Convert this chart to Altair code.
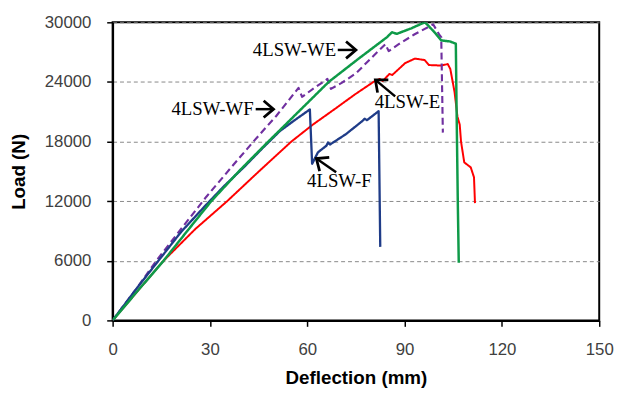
import altair as alt
import pandas as pd

# ---- series data (Deflection mm, Load N) ----
we_x = [0, 7.8, 15.7, 23, 30.4, 39.2, 48, 57.3, 66.6, 75.9, 84.6, 86.1, 87.6, 92.1, 96.2, 97.1, 99.5, 101.3, 103.9, 105.8, 106, 106.4, 106.7]
we_y = [0, 3000, 6000, 9000, 12000, 15100, 18000, 21000, 24000, 26360, 28510, 29000, 28840, 29400, 30000, 29740, 28900, 28180, 28080, 27850, 22000, 12000, 5800]

wf_x = [0, 6.9, 13.7, 21.1, 28.9, 36.3, 43.4, 50.5, 57.3, 58.4, 62.2, 66.2, 67.3, 70.6, 75, 79.4, 84.1, 85.1, 88.2, 93.1, 97.2, 98.8, 100.8, 101.3, 101.8]
wf_y = [0, 3000, 6100, 9200, 12450, 15300, 18000, 20600, 23400, 22500, 23400, 24300, 23300, 23900, 24860, 26300, 27800, 27100, 27800, 28800, 29500, 29800, 28700, 28500, 18900]

e_x = [0, 7.8, 15.7, 25.5, 35.3, 45.1, 55.1, 61.7, 68.6, 74.5, 80.4, 82.3, 83.3, 85.3, 86.2, 90.2, 93.2, 96.2, 97.5, 101.3, 103.3, 104.1, 105.4, 106.3, 107, 107.4, 108.4, 110.4, 111.4, 111.7]
e_y = [0, 3000, 6000, 9200, 12000, 15000, 18000, 19700, 21300, 22700, 24000, 24300, 24100, 24800, 24700, 25900, 26350, 26200, 25700, 25650, 25800, 25300, 23000, 20500, 19700, 18000, 15900, 15400, 14400, 11800]

f_x = [0, 6.9, 14.1, 21.1, 28.3, 34.3, 40.5, 46.1, 51.6, 55.9, 60.8, 61.5, 63.3, 65.9, 66.4, 67, 71.9, 77, 77.7, 78.4, 82, 82.5]
f_y = [0, 3000, 6000, 8900, 11450, 13500, 15430, 17300, 19070, 20100, 21230, 15760, 16920, 17580, 17900, 17700, 18740, 20070, 20300, 20150, 21060, 7400]

series_names = ["4LSW-E", "4LSW-WF", "4LSW-F", "4LSW-WE"]
series_cols = ["#FF0000", "#7030A0", "#1F3C88", "#0E9A48"]
series_widths = [2, 2.5, 2.5, 4]
series_dash = [[1, 0], [7, 4], [1, 0], [1, 0]]

x_ticks = [0, 30, 60, 90, 120, 150]
y_ticks = [0, 6000, 12000, 18000, 24000, 30000]

# ---- annotations ----
lab_text = ["4LSW-WE", "4LSW-WF", "4LSW-F", "4LSW-E"]
lab_x = [68.9, 43.5, 69.9, 90.9]
lab_y = [27220, 21260, 14010, 21950]
lab_align = ["right", "right", "center", "center"]

arr_x1 = [69.4, 44.1, 68.9, 87.1]
arr_y1 = [27220, 21260, 14900, 22550]
arr_x2 = [75.0, 49.6, 62.8, 81.0]
arr_y2 = [27220, 21260, 16290, 24210]
arr_angle = [0, 0, 215, 220]

rows = []
for name, xs, ys in [("4LSW-E", e_x, e_y), ("4LSW-WF", wf_x, wf_y),
                     ("4LSW-F", f_x, f_y), ("4LSW-WE", we_x, we_y)]:
    for i, (a, b) in enumerate(zip(xs, ys)):
        rows.append({"series": name, "x": a, "y": b, "i": i})
df = pd.DataFrame(rows)

labels_df = pd.DataFrame({"t": lab_text, "x": lab_x, "y": lab_y, "al": lab_align})
arrows_df = pd.DataFrame({"x": arr_x1, "y": arr_y1, "x2": arr_x2, "y2": arr_y2, "ang": arr_angle})

xscale = alt.Scale(domain=[0, 150], nice=False, zero=False)
yscale = alt.Scale(domain=[0, 30000], nice=False)

x_axis = alt.Axis(values=x_ticks, grid=False, domainColor="black", domainWidth=2,
                  tickColor="black", tickSize=6, tickWidth=1.5, labelFlush=False,
                  labelFont="Liberation Sans", labelFontSize=17, labelColor="#404040",
                  labelPadding=16, title="Deflection (mm)",
                  titleFont="Liberation Sans", titleFontSize=19, titleFontWeight="bold",
                  titleColor="black", titleX=246.5, titleY=58, titleBaseline="middle")
y_axis = alt.Axis(values=y_ticks, format="d", grid=True, gridColor="#888888",
                  gridDash=[4, 3], gridWidth=1, domainColor="black", domainWidth=2,
                  tickColor="black", tickSize=6, tickWidth=1.5, labelFlush=False,
                  labelFont="Liberation Sans", labelFontSize=17, labelColor="#404040",
                  labelPadding=16, title="Load (N)",
                  titleFont="Liberation Sans", titleFontSize=19, titleFontWeight="bold",
                  titleColor="black", titleX=-95, titleY=151, titleAngle=270,
                  titleAlign="center", titleBaseline="middle")

lines = alt.Chart(df).mark_line(clip=True, strokeJoin="round").encode(
    x=alt.X("x:Q", scale=xscale, axis=x_axis),
    y=alt.Y("y:Q", scale=yscale, axis=y_axis),
    color=alt.Color("series:N", scale=alt.Scale(domain=series_names, range=series_cols), legend=None),
    strokeWidth=alt.StrokeWidth("series:N", scale=alt.Scale(domain=series_names, range=series_widths), legend=None),
    strokeDash=alt.StrokeDash("series:N", scale=alt.Scale(domain=series_names, range=series_dash), legend=None),
    order="i:Q",
)

texts_r = alt.Chart(labels_df[labels_df["al"] == "right"]).mark_text(
    font="Liberation Serif", fontSize=19, color="black", baseline="middle", align="right").encode(
    x=alt.X("x:Q", scale=xscale), y=alt.Y("y:Q", scale=yscale), text="t:N")
texts_c = alt.Chart(labels_df[labels_df["al"] == "center"]).mark_text(
    font="Liberation Serif", fontSize=19, color="black", baseline="middle", align="center").encode(
    x=alt.X("x:Q", scale=xscale), y=alt.Y("y:Q", scale=yscale), text="t:N")

shafts = alt.Chart(arrows_df).mark_rule(color="black", strokeWidth=2.5).encode(
    x=alt.X("x:Q", scale=xscale), y=alt.Y("y:Q", scale=yscale),
    x2="x2:Q", y2="y2:Q")

heads = alt.Chart(arrows_df).mark_point(shape="M -1 -0.85 L 0 0 L -1 0.85", filled=False,
                                        color="black", strokeWidth=2.8, size=400, opacity=1).encode(
    x=alt.X("x2:Q", scale=xscale), y=alt.Y("y2:Q", scale=yscale),
    angle=alt.Angle("ang:Q", scale=None))

chart = alt.layer(lines, shafts, heads, texts_r, texts_c).properties(
    width=493, height=302,
    autosize=alt.AutoSizeParams(type="none"),
    padding={"left": 106, "top": 12, "right": 17, "bottom": 68},
    background="white",
).configure_view(stroke="black", strokeWidth=2)

chart.save("out.html", embed_options={"renderer": "svg", "actions": False})
